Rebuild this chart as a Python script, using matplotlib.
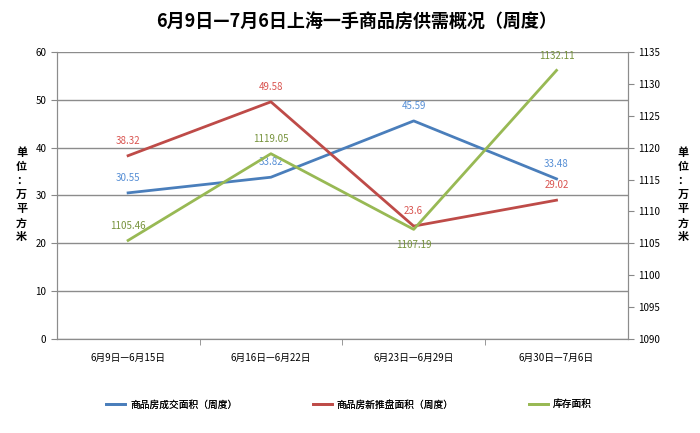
import matplotlib
matplotlib.use("Agg")
from matplotlib import pyplot as plt
from matplotlib.lines import Line2D

plt.rcParams['font.family'] = ['Noto Sans CJK SC', 'DejaVu Sans']

weeks = ["6月9日—6月15日", "6月16日—6月22日", "6月23日—6月29日", "6月30日—7月6日"]
deal_area = [30.55, 33.82, 45.59, 33.48]
new_area = [38.32, 49.58, 23.6, 29.02]
stock_area = [1105.46, 1119.05, 1107.19, 1132.11]

names = ["商品房成交面积（周度）", "商品房新推盘面积（周度）", "库存面积"]
line_colors = ["#4A7EBB", "#BE4B48", "#98B954"]
text_colors = ["#558ED5", "#D9534F", "#77933C"]

fig = plt.figure(figsize=(7, 4.33), dpi=100)
ax = fig.add_axes([0.081, 0.217, 0.816, 0.663])
ax2 = ax.twinx()

x = list(range(len(weeks)))
ax.plot(x, deal_area, color=line_colors[0], lw=2, zorder=3)
ax.plot(x, new_area, color=line_colors[1], lw=2, zorder=3)
ax2.plot(x, stock_area, color=line_colors[2], lw=2, zorder=3)

for i, v in enumerate(deal_area):
    ax.annotate(str(v), (i, v), xytext=(0, 7), textcoords="offset points",
                ha="center", va="bottom", fontsize=7, color=text_colors[0])
for i, v in enumerate(new_area):
    ax.annotate(str(v), (i, v), xytext=(0, 7), textcoords="offset points",
                ha="center", va="bottom", fontsize=7, color=text_colors[1])
for i, v in enumerate(stock_area):
    if i == 2:
        ax2.annotate(str(v), (i, v), xytext=(0, -8), textcoords="offset points",
                     ha="center", va="top", fontsize=7, color=text_colors[2])
    else:
        ax2.annotate(str(v), (i, v), xytext=(0, 7), textcoords="offset points",
                     ha="center", va="bottom", fontsize=7, color=text_colors[2])

ax.set_xlim(-0.5, 3.5)
ax.set_ylim(0, 60)
ax.set_yticks(range(0, 61, 10))
ax2.set_ylim(1090, 1135)
ax2.set_yticks(range(1090, 1136, 5))

ax.set_xticks(x)
ax.set_xticklabels(weeks, fontsize=7)
ax.set_xticks([0.5, 1.5, 2.5], minor=True)
ax.tick_params(axis='x', which='major', length=0, pad=10)
ax.tick_params(axis='x', which='minor', length=4, color="#888888", direction="out")
ax.tick_params(axis='y', labelsize=7, length=4, color="#888888")
ax2.tick_params(axis='y', labelsize=7, length=4, color="#888888")

ax.grid(axis='y', color="#8c8c8c", lw=1)
ax.set_axisbelow(True)
for a in (ax, ax2):
    a.spines['top'].set_visible(False)
    for s in ('left', 'right', 'bottom'):
        a.spines[s].set_color("#8c8c8c")

unit = "单\n位\n：\n万\n平\n方\n米"
fig.text(0.031, 0.55, unit, fontsize=8, fontweight="bold", ha="center", va="center", linespacing=1.1)
fig.text(0.976, 0.55, unit, fontsize=8, fontweight="bold", ha="center", va="center", linespacing=1.1)

fig.text(0.51, 0.949, "6月9日—7月6日上海一手商品房供需概况（周度）", fontsize=13,
         fontweight="bold", ha="center", va="center")

handles = [Line2D([], [], color=c, lw=2) for c in line_colors]
for h, n, xpos in zip(handles, names, [0.139, 0.434, 0.743]):
    leg = fig.legend([h], [n], loc="center left", bbox_to_anchor=(xpos, 0.066),
                     frameon=False, fontsize=7, handlelength=2, handletextpad=0.5)
    fig.add_artist(leg)

fig.savefig("out.png", dpi=100)
